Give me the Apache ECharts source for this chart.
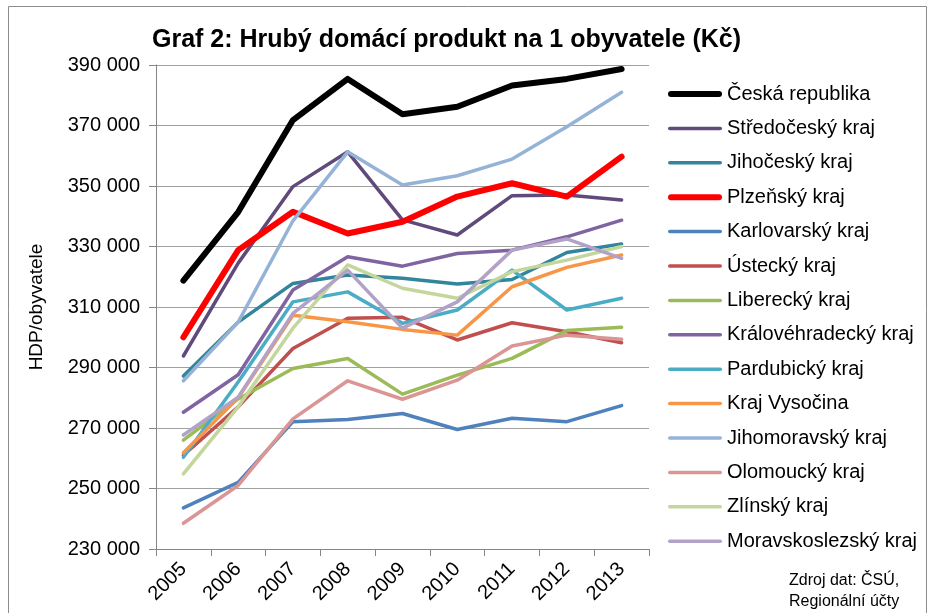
<!DOCTYPE html>
<html>
<head>
<meta charset="utf-8">
<script src="https://cdn.jsdelivr.net/npm/echarts@6/dist/echarts.min.js"></script>
<style>
  html, body { margin: 0; padding: 0; background: #fff; }
  #chart { width: 932px; height: 613px; }
</style>
</head>
<body>
<div id="chart"></div>
<script>
// data (HDP na 1 obyvatele, Kč)
const years = ['2005', '2006', '2007', '2008', '2009', '2010', '2011', '2012', '2013']
const yTicks = [230000, 250000, 270000, 290000, 310000, 330000, 350000, 370000, 390000]

const ceskaRepublika = [318700, 341400, 371800, 385400, 373700, 376200, 383200, 385400, 388700]
const stredocesky = [293800, 324500, 349800, 361300, 338800, 333800, 346800, 347000, 345400]
const jihocesky = [287200, 305000, 317800, 320600, 319500, 317600, 319100, 328000, 330800]
const plzensky = [300000, 328800, 341500, 334300, 338200, 346500, 350900, 346500, 359700]
const karlovarsky = [243600, 252000, 272100, 272800, 274800, 269500, 273200, 272100, 277400]
const ustecky = [261000, 277000, 296300, 306300, 306600, 299100, 304800, 301800, 298200]
const liberecky = [266000, 279600, 289700, 293000, 281200, 287500, 293000, 302200, 303300]
const kralovehradecky = [275200, 287600, 315600, 326600, 323500, 327700, 328800, 333200, 338700]
const pardubicky = [260300, 285200, 311700, 315000, 304600, 309000, 322200, 309000, 312900]
const vysocina = [261800, 280000, 307300, 305100, 302600, 300700, 316700, 323100, 327200]
const jihomoravsky = [285600, 305000, 338500, 361300, 350300, 353400, 358900, 369600, 381000]
const olomoucky = [238500, 251000, 273000, 285600, 279500, 285800, 297100, 300700, 299300]
const zlinsky = [254800, 277000, 303000, 323900, 316200, 312900, 321700, 325500, 330000]
const moravskoslezsky = [267700, 280200, 307900, 322200, 303000, 311700, 328800, 332500, 326100]

const seriesDefs = [
  { name: 'Česká republika', data: ceskaRepublika, color: '#000000', width: 6 },
  { name: 'Středočeský kraj', data: stredocesky, color: '#604A7B', width: 3.5 },
  { name: 'Jihočeský kraj', data: jihocesky, color: '#31859C', width: 3.5 },
  { name: 'Plzeňský kraj', data: plzensky, color: '#FF0000', width: 6 },
  { name: 'Karlovarský kraj', data: karlovarsky, color: '#4F81BD', width: 3.5 },
  { name: 'Ústecký kraj', data: ustecky, color: '#C0504D', width: 3.5 },
  { name: 'Liberecký kraj', data: liberecky, color: '#9BBB59', width: 3.5 },
  { name: 'Královéhradecký kraj', data: kralovehradecky, color: '#8064A2', width: 3.5 },
  { name: 'Pardubický kraj', data: pardubicky, color: '#4BACC6', width: 3.5 },
  { name: 'Kraj Vysočina', data: vysocina, color: '#F79646', width: 3.5 },
  { name: 'Jihomoravský kraj', data: jihomoravsky, color: '#95B3D7', width: 3.5 },
  { name: 'Olomoucký kraj', data: olomoucky, color: '#D99694', width: 3.5 },
  { name: 'Zlínský kraj', data: zlinsky, color: '#C3D69B', width: 3.5 },
  { name: 'Moravskoslezský kraj', data: moravskoslezsky, color: '#B3A2C7', width: 3.5 }
]

const font = '"Liberation Sans", Arial, sans-serif'

function thousands(v) {
  return String(v).replace(/\B(?=(\d{3})+(?!\d))/g, ' ')
}

// legend icon: a rounded bar as long as the legend item, as thick as the line
function barIcon(w) {
  const r = w / 2
  return `path://M${r},0H${54 - r}A${r},${r},0,0,1,${54 - r},${w}H${r}A${r},${r},0,0,1,${r},0Z`
}

const chart = echarts.init(document.getElementById('chart'), null, { renderer: 'canvas' })

chart.setOption({
  animation: false,
  backgroundColor: '#fff',
  title: {
    text: 'Graf 2: Hrubý domácí produkt na 1 obyvatele (Kč)',
    left: 147,
    top: 23,
    textStyle: { fontFamily: font, fontSize: 25, fontWeight: 'bold', color: '#000' }
  },
  grid: { left: 156, right: 283, top: 65, bottom: 64 },
  legend: {
    orient: 'vertical',
    left: 668,
    top: 84,
    padding: 0,
    itemWidth: 54,
    itemHeight: 14,
    itemGap: 14.4,
    data: seriesDefs.map(s => ({ name: s.name, icon: barIcon(s.width) })),
    textStyle: { fontFamily: font, fontSize: 20, color: '#000' }
  },
  xAxis: {
    type: 'category',
    data: years,
    boundaryGap: true,
    axisLine: { lineStyle: { color: '#868686', width: 1 } },
    axisTick: { show: true, interval: 0, length: 7, lineStyle: { color: '#868686' } },
    axisLabel: {
      interval: 0,
      rotate: 45,
      margin: 17,
      fontFamily: font,
      fontSize: 20,
      color: '#000'
    },
    splitLine: { show: false }
  },
  yAxis: {
    type: 'value',
    min: 230000,
    max: 390000,
    name: 'HDP/obyvatele',
    nameLocation: 'middle',
    nameGap: 110,
    nameTextStyle: { fontFamily: font, fontSize: 19, color: '#000' },
    axisLine: { show: true, lineStyle: { color: '#868686', width: 1 } },
    axisTick: { show: true, length: 7, customValues: yTicks, lineStyle: { color: '#868686' } },
    axisLabel: {
      customValues: yTicks,
      margin: 16,
      fontFamily: font,
      fontSize: 20,
      color: '#000',
      formatter: thousands
    },
    splitLine: { show: true, lineStyle: { color: '#A0A0A0', width: 1 } }
  },
  graphic: [
    {
      type: 'rect',
      shape: { x: 8.5, y: 6.5, width: 918, height: 640 },
      style: { fill: null, stroke: '#8c8c8c', lineWidth: 1 },
      silent: true
    },
    {
      type: 'text',
      left: 789,
      top: 570,
      style: {
        text: 'Zdroj dat: ČSÚ,\nRegionální účty',
        fontFamily: font,
        fontSize: 16,
        lineHeight: 21,
        fill: '#000'
      }
    }
  ],
  series: seriesDefs.map(s => ({
    name: s.name,
    type: 'line',
    data: s.data,
    symbol: 'none',
    color: s.color,
    lineStyle: { color: s.color, width: s.width, cap: 'round', join: 'round' }
  }))
})
</script>
</body>
</html>
